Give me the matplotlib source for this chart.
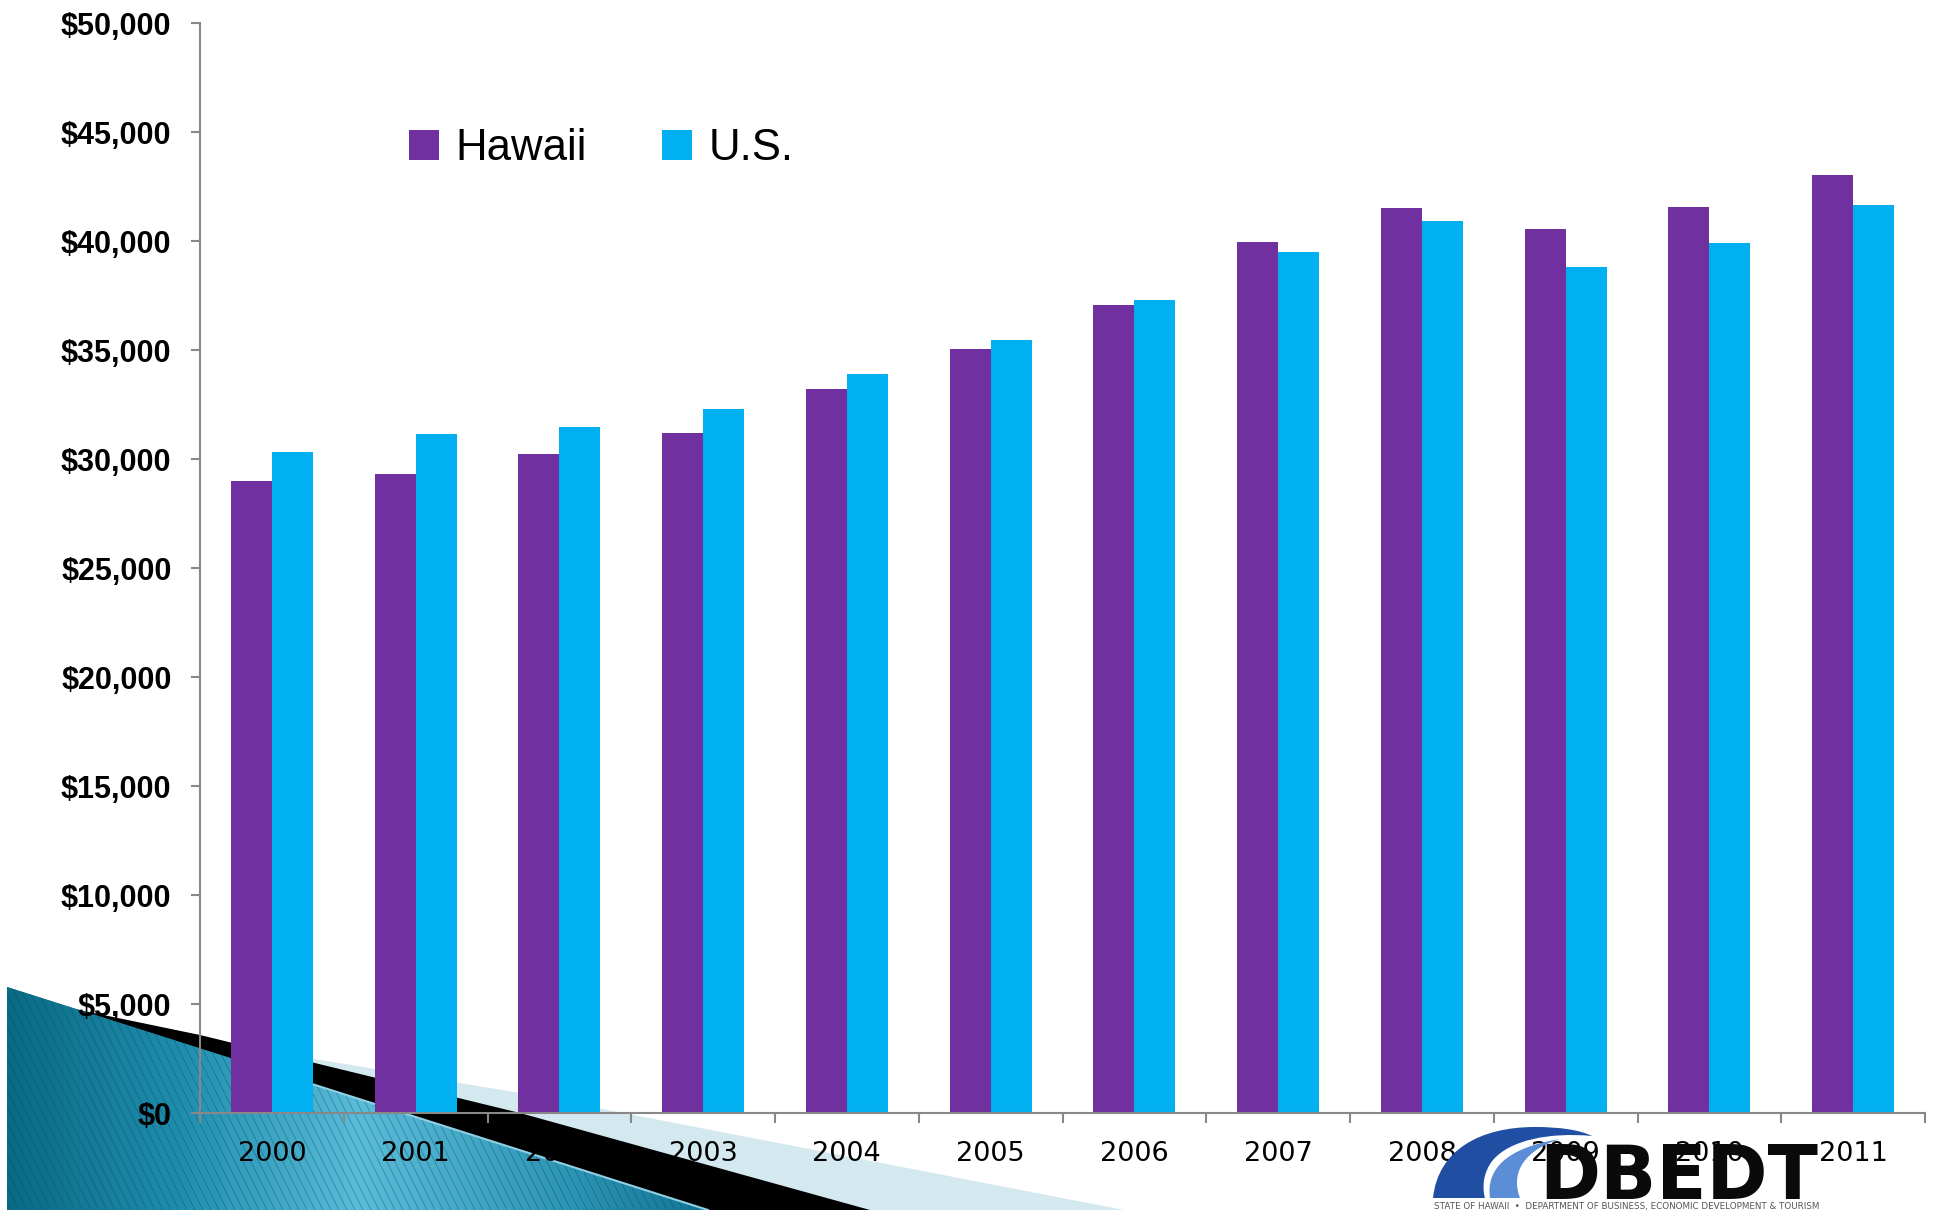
#!/usr/bin/env python3
"""Per capita personal income, Hawaii vs. U.S., 2000-2011 (slide chart)."""

import matplotlib
matplotlib.use("Agg")
import matplotlib.pyplot as plt
import numpy as np
from matplotlib.patches import Polygon, PathPatch
from matplotlib.path import Path
from matplotlib.collections import LineCollection
from matplotlib.colors import LinearSegmentedColormap
from matplotlib.ticker import MultipleLocator, FuncFormatter

# ── Data ─────────────────────────────────────────────────────────────────────
years = ["2000", "2001", "2002", "2003", "2004", "2005",
         "2006", "2007", "2008", "2009", "2010", "2011"]
hawaii = [29000, 29310, 30230, 31190, 33210, 35060,
          37080, 39950, 41510, 40560, 41560, 43050]
us = [30320, 31150, 31470, 32290, 33910, 35460,
      37290, 39510, 40930, 38840, 39920, 41660]

PURPLE = "#7030A0"
BLUE = "#00B0F0"
AXIS_GREY = "#888888"

W, H = 1937, 1210
fig = plt.figure(figsize=(W / 100, H / 100), dpi=100)
fig.patch.set_facecolor("white")

# ── Slide background decoration (pixel coords, y down) ──────────────────────
bg = fig.add_axes([0, 0, 1, 1], zorder=-1)
bg.set_xlim(0, W)
bg.set_ylim(H, 0)
bg.axis("off")

light_band = Polygon([(100, 1020), (200, 1040), (333, 1062), (520, 1093),
                      (1124, 1210), (800, 1210)],
                     closed=True, facecolor="#d4e8ef", edgecolor="none")
bg.add_patch(light_band)

black_band = Polygon([(60, 1006), (200, 1035), (520, 1113), (870, 1210),
                      (600, 1210), (60, 1012)],
                     closed=True, facecolor="black", edgecolor="none")
bg.add_patch(black_band)

teal_pts = [(7, 987), (7, 1210), (708, 1210)]
teal = Polygon(teal_pts, closed=True, facecolor="#1b7f9c", edgecolor="none")
bg.add_patch(teal)

teal_cmap = LinearSegmentedColormap.from_list(
    "teal", [(0.0, "#0a6983"), (0.25, "#1f8eae"), (0.5, "#5bbcd9"),
             (0.8, "#2b93b3"), (1.0, "#0f7391")])
grad = np.linspace(0, 1, 256).reshape(1, -1)
im = bg.imshow(grad, cmap=teal_cmap, extent=[0, 720, 1210, 985],
               aspect="auto", zorder=2)
im.set_clip_path(teal)

# fine diagonal stripes over the teal wedge
stripes = [[(x0, 980), (x0 + 115, 1210)] for x0 in range(-120, 720, 8)]
lc = LineCollection(stripes, colors="#05485c", linewidths=0.7, alpha=0.35,
                    zorder=3)
bg.add_collection(lc)
lc.set_clip_path(teal)

bg.plot([250, 708], [987 + 0.318 * 243, 1210], color="#8fd0e4", lw=1.5,
        zorder=4)

# ── Main chart ───────────────────────────────────────────────────────────────
ax = fig.add_axes([200 / W, 1 - 1113.3 / H, 1725 / W, (1113.3 - 23.3) / H])
ax.set_facecolor("none")

x = np.arange(len(years))
w = 0.285
ax.bar(x - w / 2, hawaii, w, color=PURPLE, label="Hawaii", zorder=2)
ax.bar(x + w / 2, us, w, color=BLUE, label="U.S.", zorder=2)

ax.set_xlim(-0.5, len(years) - 0.5)
ax.set_ylim(0, 50000)
ax.yaxis.set_major_locator(MultipleLocator(5000))
ax.yaxis.set_major_formatter(FuncFormatter(lambda v, _: f"${v:,.0f}"))

ax.set_xticks(x, years)
ax.set_xticks(np.arange(-0.5, len(years), 1), minor=True)
ax.tick_params(axis="x", which="major", length=0, pad=20, labelsize=19.5)
ax.tick_params(axis="x", which="minor", length=7.5, width=1.5,
               color=AXIS_GREY, direction="out")
ax.tick_params(axis="y", length=6.5, width=1.5, color=AXIS_GREY, pad=14)
for lab in ax.get_xticklabels():
    lab.set_family("DejaVu Sans")
for lab in ax.get_yticklabels():
    lab.set_family("Liberation Sans")
    lab.set_fontweight("bold")
    lab.set_fontsize(22)

for side in ("top", "right"):
    ax.spines[side].set_visible(False)
for side in ("left", "bottom"):
    ax.spines[side].set_color(AXIS_GREY)
    ax.spines[side].set_linewidth(1.5)

ax.legend(loc="center left", bbox_to_anchor=(409 / W, 1 - 149 / H),
          bbox_transform=fig.transFigure, ncol=2, frameon=False,
          prop={"family": "Liberation Sans", "size": 31.5},
          handlelength=0.69, handleheight=0.69, handletextpad=0.38,
          columnspacing=1.7, borderpad=0, borderaxespad=0)

# ── DBEDT logo, bottom right ─────────────────────────────────────────────────
lg = fig.add_axes([0, 0, 1, 1], zorder=5)
lg.set_xlim(0, W)
lg.set_ylim(H, 0)
lg.axis("off")
lg.patch.set_alpha(0)

C4 = Path.CURVE4
dark_swoosh = Path(
    [(1433, 1198),
     (1438, 1150), (1480, 1127), (1535, 1127),
     (1560, 1127), (1580, 1130), (1592, 1136),
     (1550, 1132), (1510, 1140), (1493, 1160),
     (1483, 1172), (1482, 1188), (1485, 1198),
     (1433, 1198)],
    [Path.MOVETO, C4, C4, C4, C4, C4, C4, C4, C4, C4, C4, C4, C4,
     Path.CLOSEPOLY])
lg.add_patch(PathPatch(dark_swoosh, facecolor="#1f4ea3", edgecolor="none"))

light_swoosh = Path(
    [(1490, 1198),
     (1486, 1170), (1505, 1148), (1560, 1139),
     (1525, 1150), (1510, 1172), (1520, 1198),
     (1490, 1198)],
    [Path.MOVETO, C4, C4, C4, C4, C4, C4, Path.CLOSEPOLY])
lg.add_patch(PathPatch(light_swoosh, facecolor="#5b8ed6", edgecolor="none"))

lg.text(1679, 1199, "DBEDT", ha="center", va="baseline", fontsize=53,
        fontweight="heavy", family="DejaVu Sans", color="#0a0a0a")
lg.text(1627, 1206,
        "STATE OF HAWAII  \u2022  DEPARTMENT OF BUSINESS, ECONOMIC DEVELOPMENT & TOURISM",
        ha="center", va="center", fontsize=6.3, family="DejaVu Sans",
        color="#555555")

fig.savefig("out.png", dpi=100, facecolor="white")
plt.close(fig)
